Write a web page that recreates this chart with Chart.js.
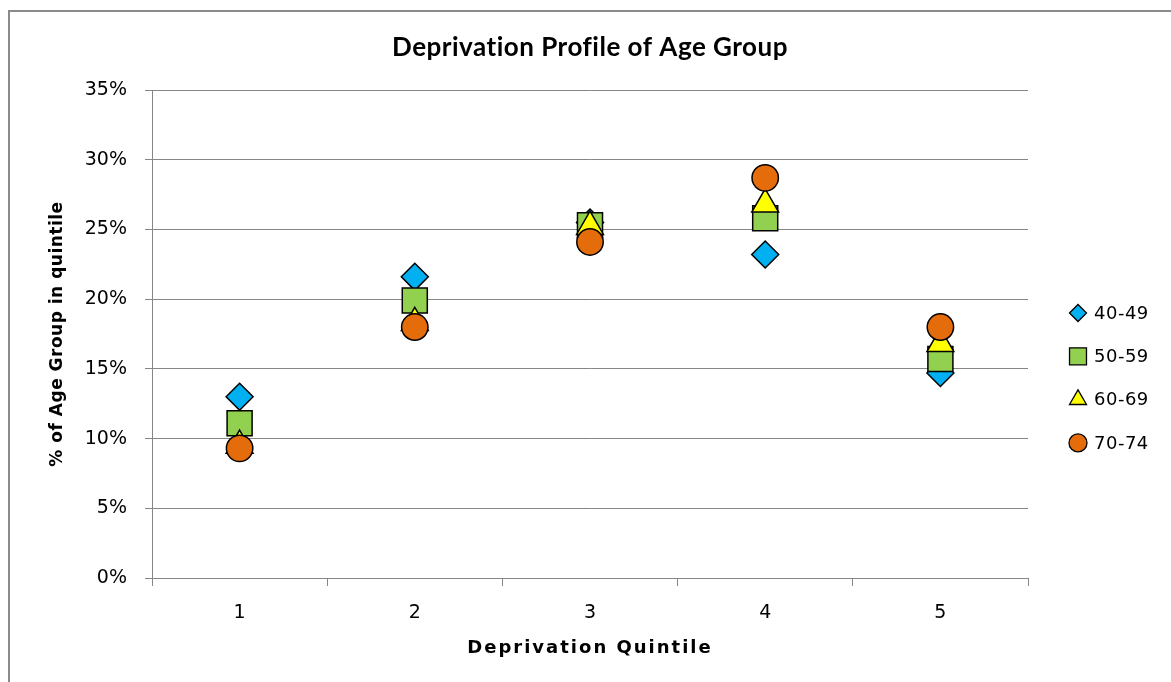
<!DOCTYPE html>
<html>
<head>
<meta charset="utf-8">
<script src="https://cdn.jsdelivr.net/npm/chart.js@4.4.1/dist/chart.umd.min.js"></script>
<style>
  html, body { margin: 0; padding: 0; background: #fff; overflow: hidden; }
  .frame { position: absolute; left: 8px; top: 10px; width: 1300px; height: 800px;
           border-left: 2px solid #8a8a8a; border-top: 2px solid #8a8a8a; }
  .wrap { position: absolute; left: 0; top: 0; width: 1171px; height: 682px; }
</style>
</head>
<body>
<div class="frame"></div>
<div class="wrap"><canvas id="chart"></canvas></div>
<script>
// values, % of age group in each quintile
const quintiles = ['1', '2', '3', '4', '5'];
const ageGroups = ['40-49', '50-59', '60-69', '70-74'];
const age4049 = [13.0, 21.6, 25.5, 23.2, 14.7];
const age5059 = [11.1, 19.9, 25.3, 25.8, 15.7];
const age6069 = [9.5, 18.3, 25.2, 26.8, 16.8];
const age7074 = [9.3, 18.0, 24.1, 28.7, 18.0];
const yMin = 0, yMax = 35, yStep = 5;

const GRID = '#868686';
const tickFont = { family: 'DejaVu Sans', size: 19 };
const axisTitleFont = { family: 'DejaVu Sans', size: 17, weight: 'bold', lineHeight: 1.2 };

const series = [
  { data: age4049, style: 'rectRot', color: '#00B0F0', r: 13.5, lr: 8.5 },
  { data: age5059, style: 'rect', color: '#92D050', r: 17.7, lr: 12 },
  { data: age6069, style: 'triangle', color: '#FFFF00', r: 15.5, lr: 9.8 },
  { data: age7074, style: 'circle', color: '#E46C0A', r: 13.2, lr: 9 }
];

// the original titles are a touch wider than the fonts we have, so space them out a little
const spacing = {
  id: 'spacing',
  afterUpdate(chart) {
    const ctx = chart.ctx;
    const wrap = (obj, fn, px) => {
      if (!obj || obj['_sp_' + fn]) return;
      const orig = obj[fn];
      obj['_sp_' + fn] = true;
      obj[fn] = function (...args) {
        const old = ctx.letterSpacing;
        ctx.letterSpacing = px;
        const r = orig.apply(this, args);
        ctx.letterSpacing = old;
        return r;
      };
    };
    wrap(chart.scales.x, 'drawTitle', '2px');
    wrap(chart.scales.y, 'drawTitle', '0.5px');
    wrap(chart.titleBlock, 'draw', '0.5px');
  }
};

// legend on the right, drawn by hand so marker sizes can differ per series
const sideLegend = {
  id: 'sideLegend',
  afterDraw(chart) {
    const ctx = chart.ctx;
    const area = chart.chartArea;
    const x = area.right + 50;
    let y = area.top + 223;
    ctx.save();
    ctx.letterSpacing = '0.5px';
    chart.data.datasets.forEach((ds) => {
      ctx.fillStyle = ds.backgroundColor;
      ctx.strokeStyle = '#000';
      ctx.lineWidth = 1.3;
      Chart.helpers.drawPoint(ctx, { pointStyle: ds.pointStyle, radius: ds.legendRadius, rotation: 0, borderWidth: 1.3 }, x, y);
      ctx.fillStyle = '#000';
      ctx.font = '18px "' + tickFont.family + '"';
      ctx.textBaseline = 'middle';
      ctx.textAlign = 'left';
      ctx.fillText(ds.label, x + 16, y + 1);
      y += 43.3;
    });
    ctx.restore();
  }
};

new Chart(document.getElementById('chart'), {
  type: 'line',
  data: {
    labels: quintiles,
    datasets: series.map((s, i) => ({
      label: ageGroups[i],
      data: s.data,
      showLine: false,
      pointStyle: s.style,
      pointRadius: s.r,
      pointHoverRadius: s.r,
      backgroundColor: s.color,
      borderColor: '#000',
      pointBorderWidth: 1.5,
      legendRadius: s.lr,
      order: series.length - i
    }))
  },
  options: {
    responsive: true,
    maintainAspectRatio: false,
    animation: false,
    events: [],
    layout: { padding: { left: 0, right: 143, top: 0, bottom: 0 } },
    plugins: {
      legend: { display: false },
      tooltip: { enabled: false },
      title: {
        display: true,
        text: 'Deprivation Profile of Age Group',
        color: '#000',
        fullSize: false,
        font: { family: 'Lato', size: 26, weight: 'bold', lineHeight: 1.2 },
        padding: { top: 32, bottom: 26.8 }
      }
    },
    scales: {
      x: {
        type: 'category',
        offset: true,
        grid: { offset: true, drawOnChartArea: false, drawTicks: true, tickLength: 8, color: GRID, lineWidth: 1 },
        border: { color: GRID, width: 1 },
        ticks: { color: '#000', font: tickFont, padding: 16 },
        title: {
          display: true,
          text: 'Deprivation Quintile',
          color: '#000',
          font: { family: 'DejaVu Sans', size: 18, weight: 'bold', lineHeight: 1.2 },
          padding: { top: 0, bottom: 23 }
        },
        afterFit(scale) { scale.height = 104; }
      },
      y: {
        min: yMin,
        max: yMax,
        grid: { color: GRID, lineWidth: 1, tickLength: 7 },
        border: { color: GRID, width: 1 },
        ticks: {
          stepSize: yStep,
          color: '#000',
          font: tickFont,
          padding: 18,
          callback: (v) => v + '%'
        },
        title: {
          display: true,
          text: '% of Age Group in quintile',
          color: '#000',
          font: axisTitleFont,
          padding: { top: 47, bottom: 0 }
        },
        afterFit(scale) { scale.width = 152; }
      }
    }
  },
  plugins: [spacing, sideLegend]
});
</script>
</body>
</html>
